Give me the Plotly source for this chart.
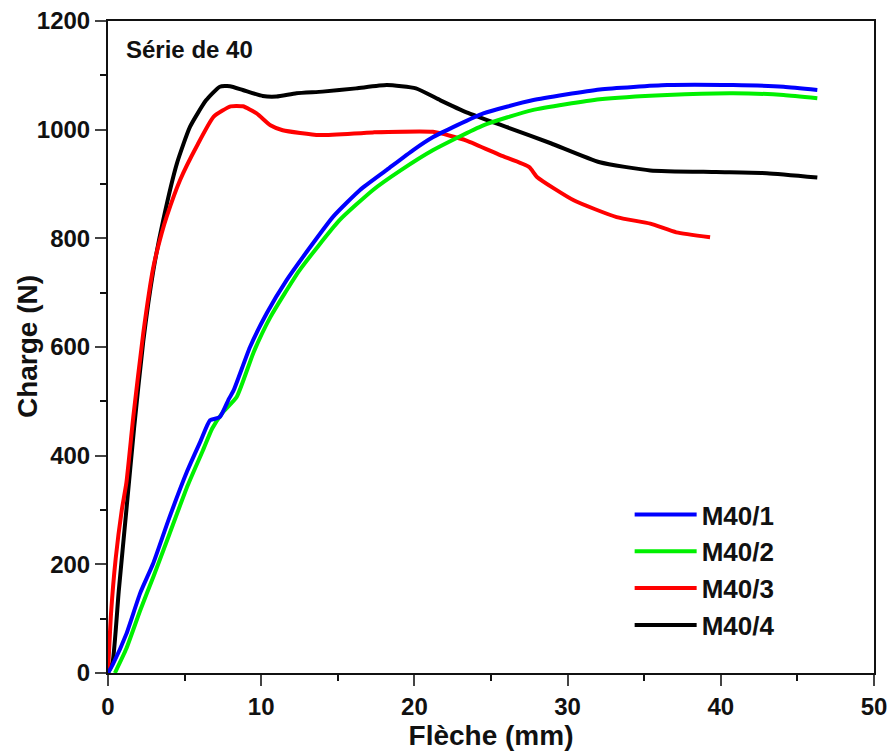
import plotly.graph_objects as go

# M40/1 (blue)
x1 = [0, 0.3, 1.2, 2.1, 2.94, 3.94, 5.19, 6.06, 6.66, 7.3, 7.9, 8.2, 9.27, 10.36, 11.66, 13.2, 14.7, 16.45, 18.2, 19.9, 21.2, 24.5, 27.7, 32.1, 36.5, 40.8, 44.1, 46.3]
y1 = [0, 15, 72, 147, 201, 281, 373, 428, 465, 471, 505, 520, 600, 662, 723, 784, 840, 889, 926, 962, 986, 1030, 1054, 1074, 1082, 1082, 1079, 1073]

# M40/2 (green)
x2 = [0.45, 1.2, 2.1, 3.0, 4.0, 5.2, 6.2, 6.8, 7.5, 8.4, 9.5, 10.6, 12.5, 15.1, 17.3, 19.1, 21.2, 24.5, 27.7, 32.1, 36.5, 40.8, 44.1, 46.3]
y2 = [0, 45, 115, 180, 255, 345, 410, 450, 480, 508, 590, 655, 741, 833, 889, 925, 962, 1008, 1036, 1056, 1064, 1067, 1064, 1058]

# M40/3 (red)
x3 = [0, 0.2, 0.5, 0.9, 1.2, 1.65, 2.3, 2.96, 3.5, 3.83, 4.7, 5.8, 6.9, 8.0, 8.8, 9.7, 10.6, 11.4, 13.8, 17.3, 21.2, 23.4, 25.6, 27.5, 28.0, 30.4, 33.2, 35.4, 37.1, 39.3]
y3 = [0, 110, 210, 300, 350, 471, 625, 747, 809, 840, 907, 970, 1024, 1043, 1043, 1030, 1008, 999, 990, 995, 996, 980, 953, 931, 913, 870, 839, 827, 811, 802]

# M40/4 (black)
x4 = [0, 0.3, 0.7, 1.2, 1.7, 2.3, 2.96, 3.6, 4.5, 5.35, 6.4, 7.3, 7.96, 8.8, 10.1, 11.0, 12.3, 14.0, 16.2, 18.2, 20.1, 21.7, 23.4, 26.2, 28.9, 32.1, 35.4, 39.7, 43.0, 46.3]
y4 = [0, 20, 150, 300, 450, 610, 741, 833, 938, 1005, 1054, 1079, 1080, 1073, 1062, 1061, 1067, 1070, 1076, 1082, 1076, 1054, 1032, 1003, 975, 940, 925, 922, 920, 912]

names = ["M40/1", "M40/2", "M40/3", "M40/4"]
colors = ["#0000ff", "#00f000", "#ff0000", "#000000"]

fig = go.Figure()
series = [(x4, y4, 3), (x3, y3, 2), (x2, y2, 1), (x1, y1, 0)]
for xs, ys, i in series:
    fig.add_trace(go.Scatter(
        x=xs, y=ys, mode="lines", name=names[i], legendrank=i + 1,
        legendgroup=names[i],
        line=dict(color=colors[i], width=4, shape="spline", smoothing=0.5),
    ))

tick_font = dict(family="Liberation Sans", size=24, color="#111111", weight="bold")
title_font = dict(family="Liberation Sans", size=28, color="#111111", weight="bold")
fig.update_xaxes(
    range=[0, 50], tick0=0, dtick=10, ticks="outside", ticklen=11, tickwidth=2,
    linecolor="#111111", linewidth=2, mirror=True, showgrid=False, zeroline=False,
    minor=dict(ticks="outside", ticklen=6, tickwidth=2, dtick=5, tickcolor="#111111"),
    tickfont=tick_font, automargin=False, ticklabeloverflow="allow",
    title=dict(text="Flèche (mm)", font=title_font, standoff=0),
)
fig.update_yaxes(
    range=[0, 1200], tick0=0, dtick=200, ticks="outside", ticklen=11, tickwidth=2,
    linecolor="#111111", linewidth=2, mirror=True, showgrid=False, zeroline=False,
    minor=dict(ticks="outside", ticklen=6, tickwidth=2, dtick=100, tickcolor="#111111"),
    tickfont=tick_font, automargin=False, ticklabeloverflow="allow",
)

fig.add_annotation(
    text="Charge (N)", xref="paper", yref="paper", x=-0.1057, y=0.5,
    xanchor="center", yanchor="middle", textangle=-90, showarrow=False,
    font=title_font,
)

fig.add_annotation(
    text="<b>Série de 40</b>", xref="paper", yref="paper", x=0.021, y=0.98,
    xanchor="left", yanchor="top", showarrow=False,
    font=dict(family="Liberation Sans", size=24, color="#111111"),
)

fig.update_layout(
    width=892, height=755,
    margin=dict(l=108, r=18, t=21, b=82),
    paper_bgcolor="white", plot_bgcolor="white",
    legend=dict(
        x=0.681, y=0.279, xanchor="left", yanchor="top",
        bgcolor="rgba(0,0,0,0)", borderwidth=0, itemwidth=62,
        font=dict(family="Liberation Sans", size=26, color="#111111", weight="bold"),
        tracegroupgap=0,
    ),
)

fig.write_html(
    "out.html",
    config={"displayModeBar": False},
    post_script="document.body.style.margin='0';document.body.style.overflow='hidden';",
)
